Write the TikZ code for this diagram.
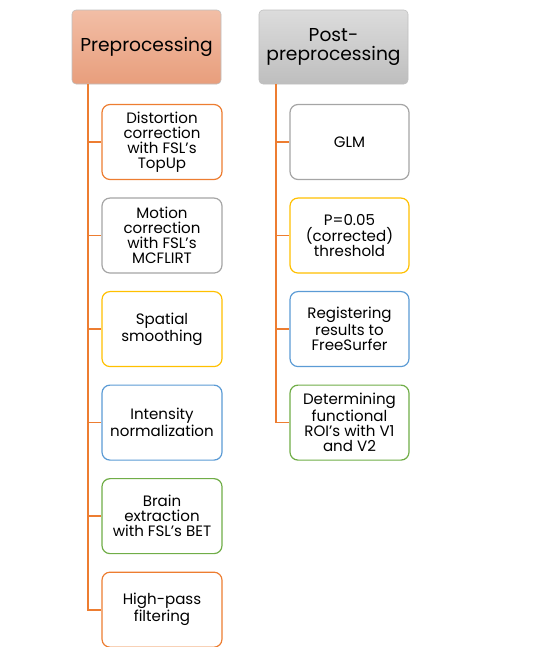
\documentclass[tikz,border=0pt]{standalone}
\usepackage{fontspec}
\setmainfont{Poppins}
\usetikzlibrary{positioning}
\definecolor{myorange}{RGB}{237,125,49}
\definecolor{mygray}{RGB}{165,165,165}
\definecolor{myyellow}{RGB}{255,192,0}
\definecolor{myblue}{RGB}{91,155,213}
\definecolor{mygreen}{RGB}{112,173,71}
\definecolor{saltop}{RGB}{242,190,166}
\definecolor{salbot}{RGB}{232,158,124}
\definecolor{graytop}{RGB}{220,220,220}
\definecolor{graybot}{RGB}{190,190,190}

\begin{document}
\begin{tikzpicture}[x=0.75pt,y=-0.75pt,
  head/.style={draw=black!25,rounded corners=3pt,minimum width=111.75pt,
    minimum height=55.5pt,align=center,font=\fontsize{14}{14.5}\selectfont},
  stepbox/.style={draw,fill=white,line width=0.9pt,rounded corners=6pt,
    minimum width=90pt,minimum height=56.25pt,align=center,inner sep=2pt,
    font=\fontsize{11.3}{11.3}\selectfont,node distance=13pt},
  link/.style={draw=myorange,line width=1.3pt}]

  \useasboundingbox (0,0) rectangle (553,647);

  \node[head,top color=saltop,bottom color=salbot] (pre) at (146.5,47) {Preprocessing};
  \node[head,top color=graytop,bottom color=graybot] (post) at (333.5,47) {Post-\\preprocessing};

  \coordinate (lt) at ([xshift=12pt]pre.south west);
  \coordinate (rt) at ([xshift=12.75pt]post.south west);

  % preprocessing steps
  \node[stepbox,draw=myorange] (p1) at (162,142) {Distortion\\correction\\with FSL's\\TopUp};
  \node[stepbox,draw=mygray,below=of p1] (p2) {Motion\\correction\\with FSL's\\MCFLIRT};
  \node[stepbox,draw=myyellow,below=of p2] (p3) {Spatial\\smoothing};
  \node[stepbox,draw=myblue,below=of p3] (p4) {Intensity\\normalization};
  \node[stepbox,draw=mygreen,below=of p4] (p5) {Brain\\extraction\\with FSL's BET};
  \node[stepbox,draw=myorange,below=of p5] (p6) {High-pass\\filtering};

  % post-preprocessing steps
  \node[stepbox,draw=mygray,minimum width=89.25pt] (q1) at (349.5,142) {GLM};
  \node[stepbox,draw=myyellow,minimum width=89.25pt,below=of q1] (q2) {P=0.05\\(corrected)\\threshold};
  \node[stepbox,draw=myblue,minimum width=89.25pt,below=of q2] (q3) {Registering\\results to\\FreeSurfer};
  \node[stepbox,draw=mygreen,minimum width=89.25pt,below=of q3] (q4) {Determining\\functional\\ROI's with V1\\and V2};

  \foreach \n in {p1,p2,p3,p4,p5,p6}
    \draw[link] (lt) |- (\n.west);
  \foreach \n in {q1,q2,q3,q4}
    \draw[link] (rt) |- (\n.west);
\end{tikzpicture}
\end{document}
